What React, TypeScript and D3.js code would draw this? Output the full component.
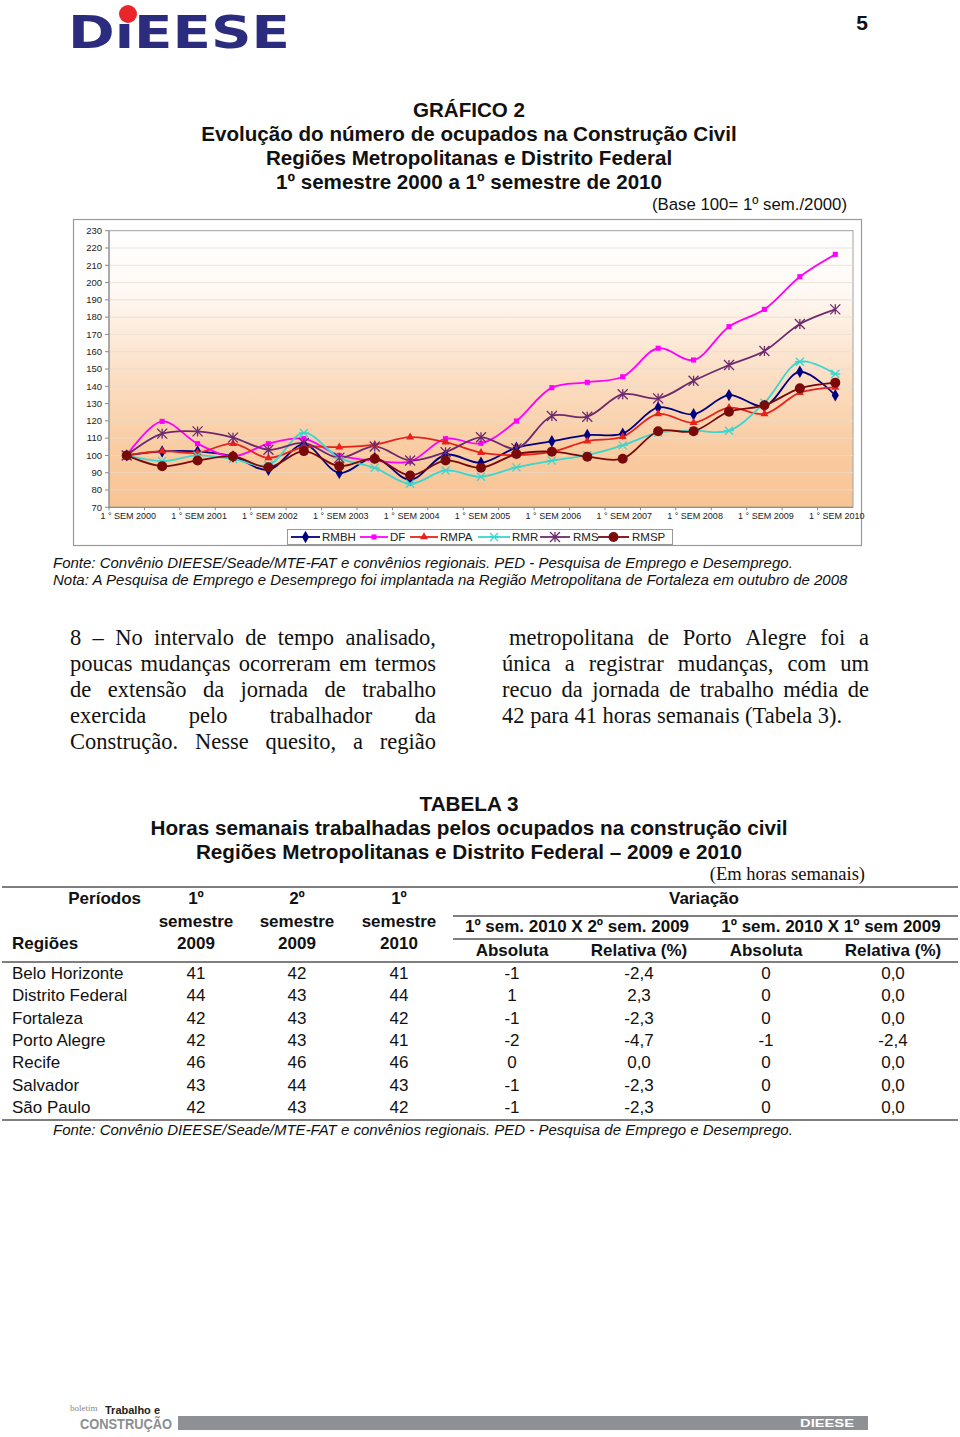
import React from "react";
import * as d3 from "d3";

// semesters 1º 2000 .. 1º 2010 (21 points)
const semesters = d3.range(21).map((i) => `${(i % 2) + 1}º SEM ${2000 + Math.floor(i / 2)}`);

const RMBH = [100, 102.3, 102.3, 99.4, 91.7, 106.4, 89.9, 98.6, 85.9, 100.4, 95.8, 104.5, 108.2, 111.8, 112.6, 127.8, 123.8, 134.9, 128.6, 148.4, 134.8];
const DF = [100, 119.7, 106.8, 99.5, 106.8, 109.7, 100, 97, 96.5, 109.7, 107, 119.9, 139.2, 142.3, 145.5, 162, 155.2, 174.5, 184.5, 203.4, 216.3];
const RMPA = [100, 102.5, 101.5, 106.8, 98.6, 104.8, 104.8, 106.2, 110.6, 107.7, 101.6, 100.2, 102.2, 108.3, 110.8, 124, 118.9, 127.6, 124, 136.3, 139.4];
const RMR = [100, 96.7, 100, 97.9, 94.5, 113, 98.6, 92.8, 83.6, 91.3, 87.7, 93.1, 97, 100.2, 105.8, 113.2, 114.3, 114.3, 130.5, 154.2, 147.1];
const RMS = [100, 112.6, 113.9, 110.3, 103.3, 107.2, 98.6, 105.2, 97.1, 101.9, 110.5, 104.1, 122.8, 122.4, 135.4, 133, 143.2, 152.3, 160.4, 176, 184.5];
const RMSP = [100, 93.8, 97.1, 99.4, 93.2, 102.5, 93.8, 98.1, 88.4, 97.1, 92.9, 100.8, 102.2, 99.3, 98.1, 114, 114, 125.3, 129, 138.8, 142.1];

const yTicks = d3.range(70, 231, 10);

const series = [
  { name: "RMBH", values: RMBH, color: "#000080", marker: "diamond" },
  { name: "DF", values: DF, color: "#FF00FF", marker: "square" },
  { name: "RMPA", values: RMPA, color: "#E8221B", marker: "triangle" },
  { name: "RMR", values: RMR, color: "#3CD6CF", marker: "x" },
  { name: "RMS", values: RMS, color: "#6E2A6E", marker: "asterisk" },
  { name: "RMSP", values: RMSP, color: "#7A0A0A", marker: "circle" },
];

// table 3
const regioes = ["Belo Horizonte", "Distrito Federal", "Fortaleza", "Porto Alegre", "Recife", "Salvador", "São Paulo"];
const sem1_2009 = ["41", "44", "42", "42", "46", "43", "42"];
const sem2_2009 = ["42", "43", "43", "43", "46", "44", "43"];
const sem1_2010 = ["41", "44", "42", "41", "46", "43", "42"];
const absA = ["-1", "1", "-1", "-2", "0", "-1", "-1"];
const relA = ["-2,4", "2,3", "-2,3", "-4,7", "0,0", "-2,3", "-2,3"];
const absB = ["0", "0", "0", "-1", "0", "0", "0"];
const relB = ["0,0", "0,0", "0,0", "-2,4", "0,0", "0,0", "0,0"];

const leftPara = [
  "8 – No intervalo de tempo analisado,",
  "poucas mudanças ocorreram em termos",
  "de extensão da jornada de trabalho",
  "exercida pelo trabalhador da",
  "Construção. Nesse quesito, a região",
];
const rightPara = [
  "metropolitana de Porto Alegre foi a",
  "única a registrar mudanças, com um",
  "recuo da jornada de trabalho média de",
  "42 para 41 horas semanais (Tabela 3).",
];

const SANS = "'Liberation Sans', Arial, sans-serif";
const SERIF = "'Liberation Serif', 'Times New Roman', serif";

let ctx: CanvasRenderingContext2D | null = null;
const measure = (t: string, font: string) => {
  if (!ctx) ctx = document.createElement("canvas").getContext("2d");
  ctx!.font = font;
  return ctx!.measureText(t).width;
};

// spread words over the column width (squeeze glyphs a bit if a line is too long)
const Justified = ({ lines, x0, x1, y0, step, size, lastLeft = true, firstIndent = 0 }) => {
  const font = `${size}px 'Liberation Serif'`;
  const sp = measure(" ", font);
  const minGap = 3;
  return (
    <g fontFamily={SERIF} fontSize={size} fill="#111">
      {lines.map((line, li) => {
        const start = x0 + (li === 0 ? firstIndent : 0);
        const words = line.split(" ");
        let ws = words.map((w) => measure(w, font));
        const last = li === lines.length - 1 && lastLeft;
        const avail = x1 - start;
        let total = d3.sum(ws);
        let k = 1;
        if (!last && total + minGap * (words.length - 1) > avail) {
          k = (avail - minGap * (words.length - 1)) / total;
          ws = ws.map((w) => w * k);
          total = d3.sum(ws);
        }
        const gap = last || words.length < 2 ? sp : (avail - total) / (words.length - 1);
        let x = start;
        return words.map((w, wi) => {
          const el = (
            <text
              key={`${li}-${wi}`}
              x={x}
              y={y0 + li * step}
              textLength={k < 1 ? ws[wi] : undefined}
              lengthAdjust="spacingAndGlyphs"
            >
              {w}
            </text>
          );
          x += ws[wi] + gap;
          return el;
        });
      })}
    </g>
  );
};

const markerPath = (type: string) => {
  const p = d3.path();
  if (type === "x") {
    p.moveTo(-4, -4); p.lineTo(4, 4); p.moveTo(-4, 4); p.lineTo(4, -4);
    p.moveTo(-5, 0); p.lineTo(5, 0);
  } else if (type === "asterisk") {
    p.moveTo(-5, -5); p.lineTo(5, 5); p.moveTo(-5, 5); p.lineTo(5, -5);
    p.moveTo(0, -5); p.lineTo(0, 5);
  }
  return p.toString();
};

const Marker = ({ type, color, x, y }) => {
  const t = `translate(${x},${y})`;
  if (type === "diamond")
    return <path transform={t} d={d3.symbol(d3.symbolDiamond, 44)()!} fill={color} />;
  if (type === "square")
    return <path transform={t} d={d3.symbol(d3.symbolSquare, 26)()!} fill={color} />;
  if (type === "triangle")
    return <path transform={t} d={d3.symbol(d3.symbolTriangle, 28)()!} fill={color} />;
  if (type === "circle") return <circle cx={x} cy={y} r={5} fill={color} />;
  return <path transform={t} d={markerPath(type)} stroke={color} strokeWidth={1.3} fill="none" />;
};

const Chart = () => {
  const plot = { left: 109, right: 853, top: 230.7, bottom: 507.3 };
  const x = d3.scaleBand().domain(semesters).range([plot.left, plot.right]);
  const cx = (s: string) => x(s)! + x.bandwidth() / 2;
  const y = d3.scaleLinear().domain([70, 230]).range([plot.bottom, plot.top]);
  const line = d3
    .line<number>()
    .x((_, i) => cx(semesters[i]))
    .y((d) => y(d))
    .curve(d3.curveCatmullRom.alpha(0.5));

  // legend: line start/end and label x
  const legendItems = [
    { x1: 291, x2: 320, tx: 322 },
    { x1: 360, x2: 388, tx: 390 },
    { x1: 410, x2: 438, tx: 440 },
    { x1: 478, x2: 510, tx: 512 },
    { x1: 540, x2: 570, tx: 573 },
    { x1: 598, x2: 629, tx: 632 },
  ];

  return (
    <g>
      <defs>
        <linearGradient id="bg" x1="0" y1="0" x2="0" y2="1">
          <stop offset="0" stopColor="#ffffff" />
          <stop offset="0.2" stopColor="#fffaf6" />
          <stop offset="0.55" stopColor="#fbdcc0" />
          <stop offset="0.8" stopColor="#f9cba0" />
          <stop offset="1" stopColor="#f8c494" />
        </linearGradient>
      </defs>
      <rect x={73.5} y={219.5} width={788} height={326} fill="#fff" stroke="#9a9a9a" strokeWidth={1.2} />
      <rect x={plot.left} y={plot.top} width={plot.right - plot.left} height={plot.bottom - plot.top} fill="url(#bg)" stroke="#a0a0a0" strokeWidth={1} />
      {yTicks.map((t) => (
        <g key={t}>
          {t > 70 && t < 230 && (
            <line x1={plot.left} x2={plot.right} y1={y(t)} y2={y(t)} stroke="#e9dccf" strokeWidth={0.8} />
          )}
          <line x1={plot.left - 4} x2={plot.left} y1={y(t)} y2={y(t)} stroke="#888" />
          <text x={102} y={y(t)} dy="0.35em" textAnchor="end" fontFamily={SANS} fontSize={9.5} fill="#222">
            {t}
          </text>
        </g>
      ))}
      <line x1={plot.left} x2={plot.left} y1={plot.top} y2={plot.bottom} stroke="#888" />
      <line x1={plot.left} x2={plot.right} y1={plot.bottom} y2={plot.bottom} stroke="#888" />
      {semesters.map((s, i) => (
        <g key={s}>
          <line x1={x(s)} x2={x(s)} y1={plot.bottom} y2={plot.bottom + 3} stroke="#888" />
          {i % 2 === 0 && (
            <text x={cx(s) + 1.5} y={516} dy="0.35em" textAnchor="middle" fontFamily={SANS} fontSize={9} fill="#222">
              {`1 ° SEM ${2000 + i / 2}`}
            </text>
          )}
        </g>
      ))}
      {series.map((s) => (
        <path key={s.name} d={line(s.values)!} fill="none" stroke={s.color} strokeWidth={1.8} />
      ))}
      {series.map((s) => (
        <g key={s.name + "m"}>
          {s.values.map((v, i) => (
            <Marker key={i} type={s.marker} color={s.color} x={cx(semesters[i])} y={y(v)} />
          ))}
        </g>
      ))}
      <rect x={287.5} y={529.5} width={385} height={15} fill="#fff" stroke="#999" />
      {series.map((s, i) => {
        const it = legendItems[i];
        return (
          <g key={s.name + "l"}>
            <line x1={it.x1} x2={it.x2} y1={537} y2={537} stroke={s.color} strokeWidth={1.8} />
            <Marker type={s.marker} color={s.color} x={(it.x1 + it.x2) / 2} y={537} />
            <text x={it.tx} y={537} dy="0.36em" fontFamily={SANS} fontSize={11.5} fill="#222">
              {s.name}
            </text>
          </g>
        );
      })}
    </g>
  );
};

const Table = () => {
  const rowY = d3.scalePoint().domain(regioes).range([973, 1107]);
  const cols = [196, 297, 399, 512, 639, 766, 893];
  const colData = [sem1_2009, sem2_2009, sem1_2010, absA, relA, absB, relB];
  const lineC = "#555";
  return (
    <g fontFamily={SANS} fontSize={17} fill="#111">
      <line x1={2} x2={958} y1={887} y2={887} stroke={lineC} strokeWidth={1.3} />
      <line x1={453} x2={958} y1={916} y2={916} stroke={lineC} strokeWidth={1.3} />
      <line x1={453} x2={958} y1={939} y2={939} stroke={lineC} strokeWidth={1.3} />
      <line x1={2} x2={958} y1={962} y2={962} stroke={lineC} strokeWidth={1.3} />
      <line x1={2} x2={958} y1={1120} y2={1120} stroke={lineC} strokeWidth={1.3} />
      <g fontWeight="bold" textAnchor="middle">
        <text x={141} y={904} textAnchor="end">Períodos</text>
        <text x={12} y={949} textAnchor="start">Regiões</text>
        {cols.slice(0, 3).map((c, i) => (
          <g key={c}>
            <text x={c} y={904}>{i === 1 ? "2º" : "1º"}</text>
            <text x={c} y={927}>semestre</text>
            <text x={c} y={949}>{i === 2 ? "2010" : "2009"}</text>
          </g>
        ))}
        <text x={704} y={904}>Variação</text>
        <text x={577} y={932}>1º sem. 2010 X 2º sem. 2009</text>
        <text x={831} y={932}>1º sem. 2010 X 1º sem 2009</text>
        <text x={cols[3]} y={956}>Absoluta</text>
        <text x={cols[4]} y={956}>Relativa (%)</text>
        <text x={cols[5]} y={956}>Absoluta</text>
        <text x={cols[6]} y={956}>Relativa (%)</text>
      </g>
      {regioes.map((r, ri) => (
        <g key={r}>
          <text x={12} y={rowY(r)! + 6}>{r}</text>
          {colData.map((col, ci) => (
            <text key={ci} x={cols[ci]} y={rowY(r)! + 6} textAnchor="middle">
              {col[ri]}
            </text>
          ))}
        </g>
      ))}
      <text x={53} y={1135} fontStyle="italic" fontSize={15}>
        Fonte: Convênio DIEESE/Seade/MTE-FAT e convênios regionais. PED - Pesquisa de Emprego e Desemprego.
      </text>
    </g>
  );
};

export default function App() {
  return (
    <svg width={960} height={1437} style={{ position: "absolute", left: 0, top: 0, background: "#fff" }}>
      {/* logo */}
      <text x={68} y={48} fontFamily="'DejaVu Sans', sans-serif" fontWeight="bold" fontSize={45} fill="#2B2C7E" textLength={222} lengthAdjust="spacingAndGlyphs">
        DıEESE
      </text>
      <circle cx={128} cy={14} r={9} fill="#E8262B" />
      <text x={862} y={30} fontFamily={SANS} fontWeight="bold" fontSize={21} textAnchor="middle" fill="#111">5</text>

      <g fontFamily={SANS} fontWeight="bold" fontSize={20.6} textAnchor="middle" fill="#111">
        <text x={469} y={117}>GRÁFICO 2</text>
        <text x={469} y={141}>Evolução do número de ocupados na Construção Civil</text>
        <text x={469} y={165}>Regiões Metropolitanas e Distrito Federal</text>
        <text x={469} y={189}>1º semestre 2000 a 1º semestre de 2010</text>
      </g>
      <text x={847} y={210} fontFamily={SANS} fontSize={16.8} textAnchor="end" fill="#111">(Base 100= 1º sem./2000)</text>

      <Chart />

      <g fontFamily={SANS} fontStyle="italic" fontSize={15} fill="#111">
        <text x={53} y={568}>Fonte: Convênio DIEESE/Seade/MTE-FAT e convênios regionais. PED - Pesquisa de Emprego e Desemprego.</text>
        <text x={53} y={585}>Nota: A Pesquisa de Emprego e Desemprego foi implantada na Região Metropolitana de Fortaleza em outubro de 2008</text>
      </g>

      <Justified lines={leftPara} x0={70} x1={436} y0={645} step={26} size={22.5} lastLeft={false} />
      <Justified lines={rightPara} x0={502} x1={869} y0={645} step={26} size={22.5} firstIndent={7} />

      <g fontFamily={SANS} fontWeight="bold" fontSize={20.7} textAnchor="middle" fill="#111">
        <text x={469} y={811}>TABELA 3</text>
        <text x={469} y={835}>Horas semanais trabalhadas pelos ocupados na construção civil</text>
        <text x={469} y={859}>Regiões Metropolitanas e Distrito Federal – 2009 e 2010</text>
      </g>
      <text x={865} y={880} fontFamily={SERIF} fontSize={18.5} textAnchor="end" fill="#111">(Em horas semanais)</text>

      <Table />

      {/* footer */}
      <text x={70} y={1411} fontFamily={SERIF} fontSize={9} fill="#888">boletim</text>
      <text x={105} y={1414} fontFamily={SANS} fontWeight="bold" fontSize={11} fill="#222">Trabalho e</text>
      <text x={80} y={1429} fontFamily={SANS} fontWeight="bold" fontSize={14} fill="#8a8e93" textLength={92} lengthAdjust="spacingAndGlyphs">CONSTRUÇÃO</text>
      <rect x={178} y={1416} width={690} height={14} fill="#8d9196" />
      <text x={800} y={1427} fontFamily={SANS} fontWeight="bold" fontSize={11} fill="#fff" textLength={54} lengthAdjust="spacingAndGlyphs">DIEESE</text>
    </svg>
  );
}
